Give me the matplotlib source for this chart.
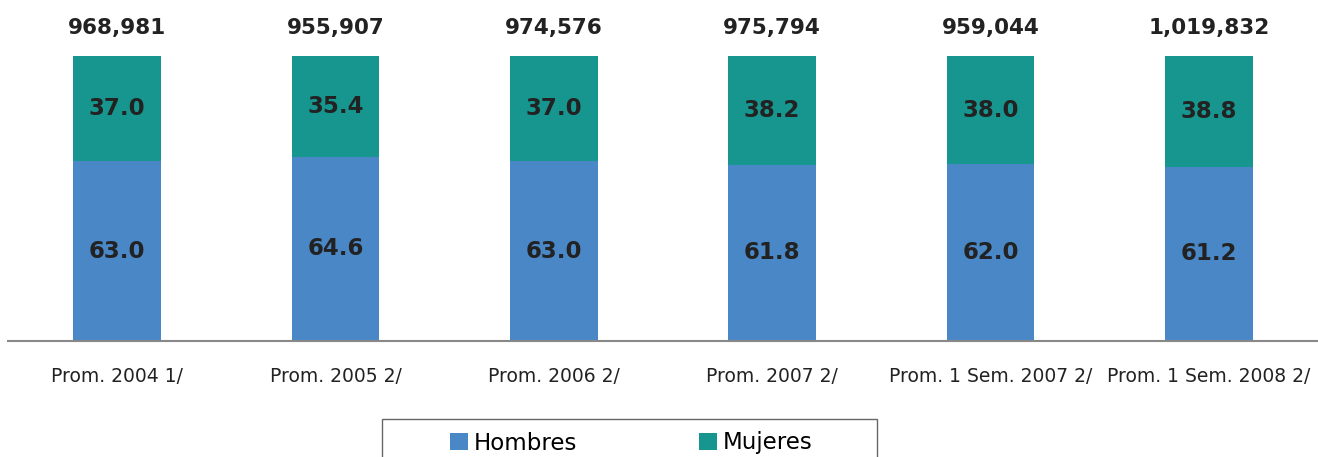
import matplotlib.pyplot as plt
from matplotlib.patches import Rectangle
from matplotlib.transforms import ScaledTranslation
import numpy as np

# datos
categorias = ["Prom. 2004 1/", "Prom. 2005 2/", "Prom. 2006 2/", "Prom. 2007 2/",
              "Prom. 1 Sem. 2007 2/", "Prom. 1 Sem. 2008 2/"]
hombres = [63.0, 64.6, 63.0, 61.8, 62.0, 61.2]
mujeres = [37.0, 35.4, 37.0, 38.2, 38.0, 38.8]
totales = [968981, 955907, 974576, 975794, 959044, 1019832]

azul = "#4A87C6"
verde = "#16968F"
texto = "#222222"

W, H = 1318, 457
fig = plt.figure(figsize=(W / 100, H / 100), dpi=100)
ax = fig.add_axes([8 / W, (H - 341) / H, 1 - 8 / W, (341 - 56) / H])

x = np.arange(len(categorias))
ancho = 88 / 219
b1 = ax.bar(x, hombres, width=ancho, color=azul, label="Hombres")
b2 = ax.bar(x, mujeres, width=ancho, bottom=hombres, color=verde, label="Mujeres")

# totales arriba de cada barra, desplazados 28 px
arriba = ax.transData + ScaledTranslation(0, 28 / 100, fig.dpi_scale_trans)
for i in range(len(x)):
    ax.text(x[i], hombres[i] / 2, f"{hombres[i]:.1f}", ha="center", va="center",
            fontsize=16.5, fontweight="bold", color=texto)
    ax.text(x[i], hombres[i] + mujeres[i] / 2, f"{mujeres[i]:.1f}", ha="center",
            va="center", fontsize=16.5, fontweight="bold", color=texto)
    ax.text(x[i], 100, f"{totales[i]:,}", ha="center", va="center",
            fontsize=15.5, fontweight="bold", color=texto, transform=arriba)

ax.set_xlim(-0.5, len(x) - 0.5)
ax.set_ylim(0, 100)
ax.set_xticks(x)
ax.set_xticklabels(categorias, fontsize=13.5, color=texto)
ax.tick_params(axis="x", length=0, pad=19)
ax.set_yticks([])
for s in ["top", "right", "left"]:
    ax.spines[s].set_visible(False)
ax.spines["bottom"].set_color("#888888")
ax.spines["bottom"].set_linewidth(1.5)

# recuadro de la leyenda (cortado abajo)
fig.patches.append(Rectangle((382 / W, -0.1), (877 - 382) / W, 0.1 + (H - 419) / H,
                             transform=fig.transFigure, fill=False,
                             edgecolor="#666666", linewidth=1.0))
fig.legend(handles=[b1, b2], loc="center", bbox_to_anchor=(631 / W, (H - 443) / H),
           ncol=2, frameon=False, fontsize=16.5, handlelength=0.8, handleheight=0.8,
           handletextpad=0.25, columnspacing=5.3)

fig.savefig("out.png", dpi=100)
